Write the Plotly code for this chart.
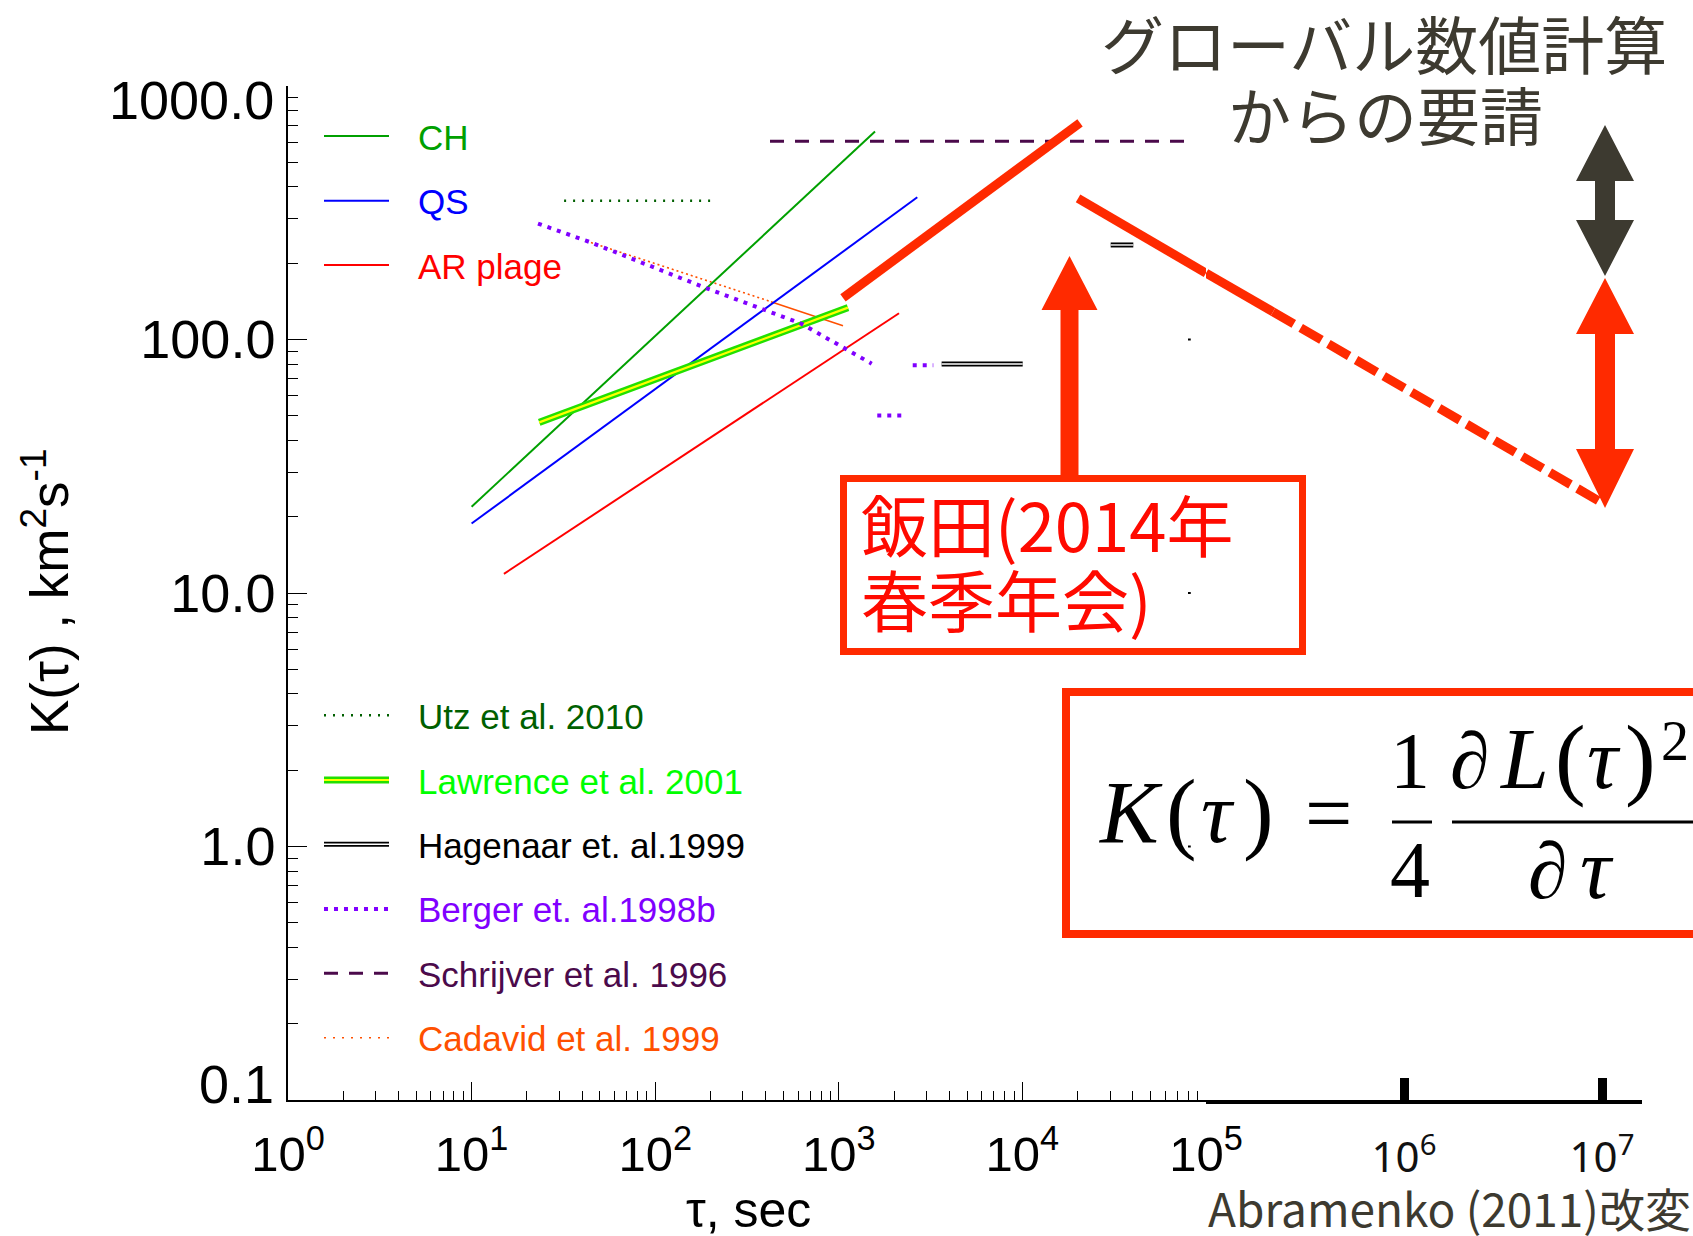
import plotly.graph_objects as go

# ---------------- data (tau in s, K in km^2/s) ----------------
ch_tau = [10, 1575];            ch_k = [21.9, 661]
qs_tau = [10, 2676];            qs_k = [18.8, 364]
ar_tau = [15.0, 2128];          ar_k = [11.9, 126.9]
utz_tau = [31.9, 201];          utz_k = [353, 353]
lawrence_tau = [23.35, 1122];   lawrence_k = [47.1, 133.6]
hag_tau1 = [3631, 10037];       hag_k1 = [80.1, 80.1]
hag_tau2 = [30260, 40180];      hag_k2 = [236, 236]
hag_tau3 = [79800, 82600];      hag_k3 = [100, 100]
hag_tau4 = [79800, 82600];      hag_k4 = [10, 10]
hag_tau5 = [79800, 82600];      hag_k5 = [1.0, 1.0]
berger_tau = [23.0, 44.7, 188, 622, 1511]
berger_k = [286.7, 241.3, 159.8, 115.6, 80.3]
berger_tau2 = [2527, 3271];     berger_k2 = [79.1, 79.1]
berger_tau3 = [1620, 2343];     berger_k3 = [50.1, 50.1]
schrijver_tau = [422, 82850];   schrijver_k = [605.6, 605.6]
cadavid_tau_dot = [44.7, 427];  cadavid_k_dot = [241.3, 141]
cadavid_tau_sol = [427, 1054];  cadavid_k_sol = [141, 113.4]
iida_up_tau = [1054, 20600];    iida_up_k = [146, 716]
iida_dn_tau_a = [20100, 1e5];   iida_dn_k_a = [360, 182.8]
iida_dn_tau_b = [1e5, 2.18e5];  iida_dn_k_b = [182.8, 128.6]
iida_dn_tau_c = [2.18e5, 1e7];  iida_dn_k_c = [128.6, 22.7]

y_tickvals = [0.1, 1, 10, 100, 1000]
y_ticktext = ["0.1", "1.0", "10.0", "100.0", "1000.0"]
x_tickvals = [1, 10, 100, 1000, 1e4, 1e5]
x_ticktext = ["10<sup>%d</sup>" % i for i in range(6)]
x2_tickvals = [1e6, 1e7]
x2_ticktext = ["10<sup>6</sup>", "10<sup>7</sup>"]

legend1 = [("CH", "#00a000"), ("QS", "#0000ff"), ("AR plage", "#ff0000")]
legend2 = ["Utz et al. 2010", "Lawrence et al. 2001", "Hagenaar et. al.1999",
           "Berger et. al.1998b", "Schrijver et al. 1996", "Cadavid et al. 1999"]
legend2_colors = ["#005f00", "#00ff00", "#000000", "#8000ff", "#4b0a4b", "#ff5000"]

RED = "#ff2a00"
DARK = "#3d3a30"
SANS = "Liberation Sans, Arial, sans-serif"
CJK = "Noto Sans CJK JP, sans-serif"
SERIF = "Liberation Serif, Times New Roman, serif"

# ---------------- geometry helpers ----------------
FW, FH = 1693, 1236
L, T, W, H = 288, 86, 1405, 1014
def px(x):
    return (x - L) / W
def py(y):
    return (T + H - y) / H

fig = go.Figure()

def line(x, y, color, width, dash="solid", axis="x"):
    fig.add_trace(go.Scatter(x=x, y=y, mode="lines", xaxis=axis, yaxis="y",
                             line=dict(color=color, width=width, dash=dash),
                             showlegend=False, hoverinfo="skip"))

line(cadavid_tau_dot, cadavid_k_dot, "#ff5000", 1.6, "2px,3px")
line(cadavid_tau_sol, cadavid_k_sol, "#ff5000", 1.6)
line(ch_tau, ch_k, "#00a000", 2)
line(qs_tau, qs_k, "#0000ff", 2)
line(ar_tau, ar_k, "#ff0000", 2)
line(utz_tau, utz_k, "#005f00", 2.5, "2px,7px")
line(lawrence_tau, lawrence_k, "#22e000", 7)
line(lawrence_tau, lawrence_k, "#ffff00", 2.2)
for tx, ky in [(hag_tau1, hag_k1), (hag_tau2, hag_k2)]:
    line(tx, ky, "#000000", 5)
    line(tx, ky, "#ffffff", 1.4)
for tx, ky in [(hag_tau3, hag_k3), (hag_tau4, hag_k4), (hag_tau5, hag_k5)]:
    line(tx, ky, "#000000", 2)
line(berger_tau, berger_k, "#8000ff", 4, "4px,6px")
line(berger_tau2, berger_k2, "#8000ff", 4, "4px,6px")
line(berger_tau3, berger_k3, "#8000ff", 4, "4px,6px")
line(schrijver_tau, schrijver_k, "#4b0a4b", 3, "14px,11px")
line(iida_up_tau, iida_up_k, RED, 9)
line(iida_dn_tau_a, iida_dn_k_a, RED, 9)
line(iida_dn_tau_b, iida_dn_k_b, RED, 9, axis="x2")
line(iida_dn_tau_c, iida_dn_k_c, RED, 9, "24px,8px", axis="x2")

shapes = []
annotations = []

def ann(x, y, text, size, color="#000000", family=SANS, xanchor="center",
        yanchor="middle", angle=0):
    annotations.append(dict(x=px(x), y=py(y), xref="paper", yref="paper", text=text,
                            showarrow=False, xanchor=xanchor, yanchor=yanchor,
                            textangle=angle,
                            font=dict(size=size, color=color, family=family)))

def glyph(xc, baseline, text, size):
    # place a serif glyph so that its baseline lands on the given pixel row
    ann(xc, baseline - 0.3375 * size, text, size, "#000000", SERIF)

def seg(x0, y0, x1, y1, color, width, dash="solid"):
    shapes.append(dict(type="line", xref="paper", yref="paper",
                       x0=px(x0), y0=py(y0), x1=px(x1), y1=py(y1),
                       line=dict(color=color, width=width, dash=dash)))

def poly(pts, color):
    d = "M " + " L ".join("%.5f,%.5f" % (px(a), py(b)) for a, b in pts) + " Z"
    shapes.append(dict(type="path", xref="paper", yref="paper", path=d,
                       fillcolor=color, line=dict(width=0)))

def rect(x0, y0, x1, y1, color, width):
    shapes.append(dict(type="rect", xref="paper", yref="paper",
                       x0=px(x0), y0=py(y0), x1=px(x1), y1=py(y1),
                       line=dict(color=color, width=width), fillcolor="rgba(0,0,0,0)"))

# ---------------- y tick labels at the ends sit inside the axis span ----------------
y_axis_ticktext = ["" if t in ("0.1", "1000.0") else t for t in y_ticktext]
ann(276, 100, y_ticktext[4], 54, xanchor="right")
ann(276, 1084, y_ticktext[0], 54, xanchor="right")

# ---------------- legends ----------------
ly1 = [136, 200.7, 265]
for (name, col), yy in zip(legend1, ly1):
    seg(324, yy, 389, yy, col, 2)
    ann(416, yy + 1, name, 35, col, xanchor="left")

ly2 = [715.3, 780, 844.3, 909, 973.3, 1037.7]
seg(324, ly2[0], 389, ly2[0], "#005f00", 2.5, "2px,7px")
seg(324, ly2[1], 389, ly2[1], "#22e000", 7)
seg(324, ly2[1], 389, ly2[1], "#ffff00", 2.2)
seg(324, ly2[2], 389, ly2[2], "#000000", 5)
seg(324, ly2[2], 389, ly2[2], "#ffffff", 1.4)
seg(324, ly2[3], 389, ly2[3], "#8000ff", 4, "4px,6px")
seg(324, ly2[4], 389, ly2[4], "#4b0a4b", 3, "14px,11px")
seg(324, ly2[5], 389, ly2[5], "#ff5000", 1.6, "2px,7px")
for name, col, yy in zip(legend2, legend2_colors, ly2):
    ann(416, yy + 1, name, 35, col, xanchor="left")

# ---------------- axis titles / credits ----------------
ann(45, 592, "K(τ) , km<sup>2</sup>s<sup>-1</sup>", 53, angle=-90)
ann(748, 1210, "τ, sec", 50)
ann(1693, 1207, "Abramenko (2011)改変", 46, DARK, CJK, xanchor="right")

# ---------------- top-right text ----------------
ann(1384, 41, "グローバル数値計算", 63, DARK, CJK)
ann(1385, 112, "からの要請", 63, DARK, CJK)

# ---------------- arrows ----------------
def double_arrow(c, yt, yb1, yb2, yb, hw, sw, col):
    poly([(c, yt), (c + hw, yb1), (c + sw, yb1), (c + sw, yb2), (c + hw, yb2), (c, yb),
          (c - hw, yb2), (c - sw, yb2), (c - sw, yb1), (c - hw, yb1)], col)

double_arrow(1605, 125, 181, 220, 276, 29, 10, DARK)
double_arrow(1605, 278, 334, 449, 508, 29, 10, RED)
c = 1069.5
poly([(c, 256), (c + 28, 310), (c + 9, 310), (c + 9, 478), (c - 9, 478), (c - 9, 310),
      (c - 28, 310)], RED)

# ---------------- Iida box ----------------
rect(843.5, 478.5, 1302.5, 651.5, RED, 7)
ann(859, 522, "飯田(2014年", 67, "#ff0a00", CJK, xanchor="left")
ann(859, 597, "春季年会)", 67, "#ff0a00", CJK, xanchor="left")

# ---------------- formula box ----------------
rect(1066, 692, 1730, 934, RED, 8)
glyph(1130, 842, "<i>K</i>", 88)
glyph(1181, 842, "(", 92)
glyph(1218, 842, "<i>τ</i>", 86)
glyph(1258, 842, ")", 92)
ann(1328, 813, "=", 84, family=SERIF)
glyph(1410, 788, "1", 80)
glyph(1410, 897, "4", 80)
seg(1392, 822, 1432, 822, "#000000", 3)
seg(1452, 822, 1700, 822, "#000000", 3)
glyph(1470, 788, "∂", 80)
glyph(1524, 788, "<i>L</i>", 86)
glyph(1570, 788, "(", 92)
glyph(1604, 788, "<i>τ</i>", 86)
glyph(1640, 788, ")", 92)
glyph(1675, 760, "2", 56)
glyph(1548, 898, "∂", 80)
glyph(1597, 898, "<i>τ</i>", 86)

axis_common = dict(type="log", showgrid=False, zeroline=False, showline=True,
                   linecolor="#000000", ticks="inside", tickcolor="#000000",
                   automargin=False)

fig.update_layout(
    template="none",
    width=FW, height=FH, autosize=False,
    margin=dict(l=L, r=FW - L - W, t=T, b=FH - T - H, pad=0, autoexpand=False),
    paper_bgcolor="white", plot_bgcolor="white",
    showlegend=False,
    xaxis=dict(axis_common, domain=[0, px(1206)], range=[0, 5], anchor="y",
               linewidth=1.5, ticklen=18, tickwidth=1.2,
               tickvals=x_tickvals, ticktext=x_ticktext,
               tickfont=dict(family=SANS, size=49, color="#000000"),
               ticklabelstandoff=10,
               minor=dict(ticks="inside", ticklen=9, tickwidth=1, tickcolor="#000000",
                          dtick="D1", showgrid=False)),
    xaxis2=dict(axis_common, domain=[px(1206), px(1642)], range=[5, 7.202], anchor="y",
                linewidth=4, ticklen=22, tickwidth=9,
                tickvals=x2_tickvals, ticktext=x2_ticktext,
                tickfont=dict(family="Noto Sans, sans-serif", size=42, color="#111111"),
                ticklabelstandoff=18),
    yaxis=dict(axis_common, domain=[0, 1], range=[-1, 3], anchor="x",
               linewidth=1.5, ticklen=19, tickwidth=1.2,
               tickvals=y_tickvals, ticktext=y_axis_ticktext,
               tickfont=dict(family=SANS, size=54, color="#000000"),
               ticklabelstandoff=0,
               minor=dict(ticks="inside", ticklen=10, tickwidth=1, tickcolor="#000000",
                          dtick="D1", showgrid=False)),
    shapes=shapes,
    annotations=annotations,
)

fig.write_html("out.html", config={"displayModeBar": False, "responsive": False},
               post_script="document.body.style.margin='0px';"
                           "document.body.style.overflow='hidden';")
